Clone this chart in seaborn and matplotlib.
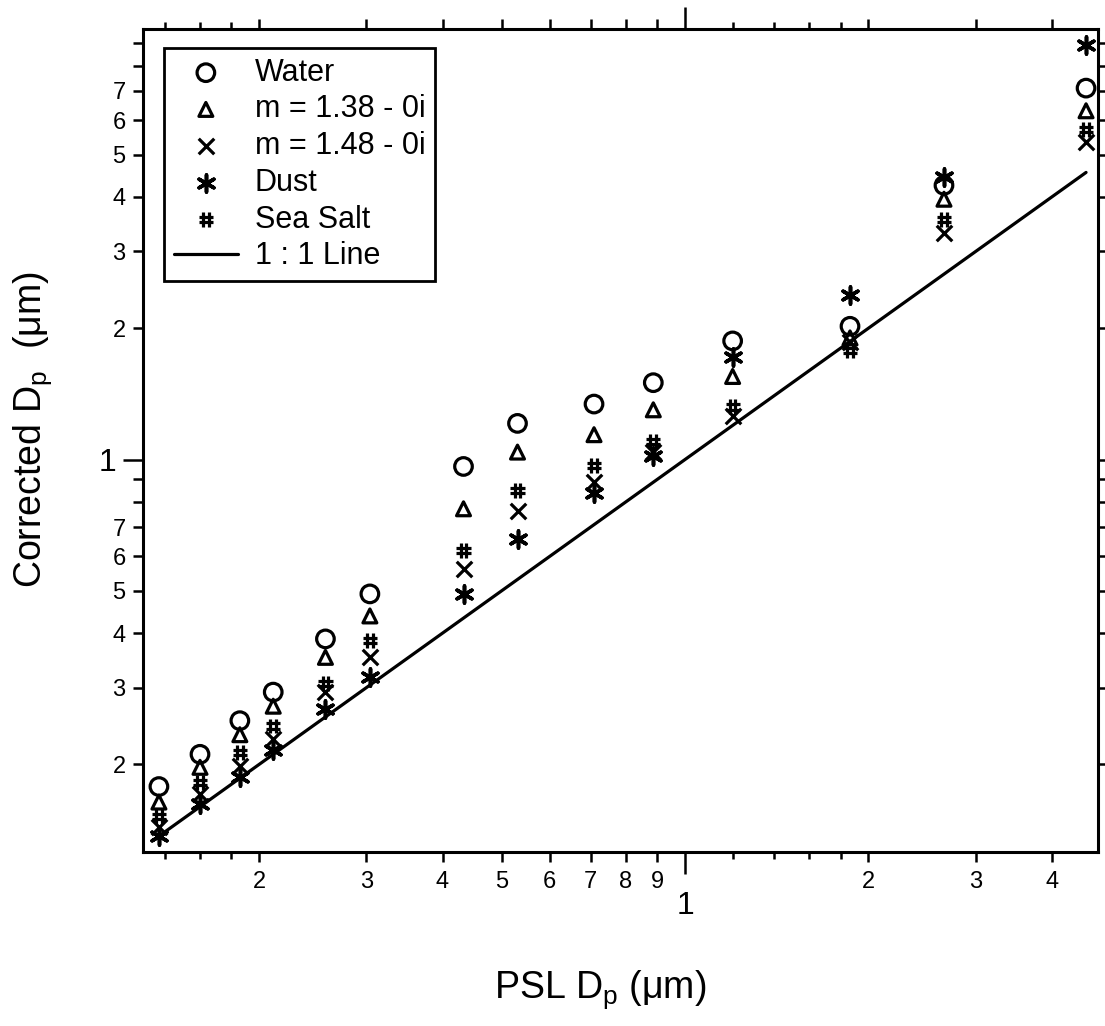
import numpy as np
import pandas as pd
import matplotlib
matplotlib.use("Agg")
import matplotlib.pyplot as plt
import seaborn as sns
from matplotlib.path import Path

# ---------------- data ----------------
psl_dp = [0.137, 0.160, 0.186, 0.211, 0.257, 0.304, 0.433, 0.531, 0.709, 0.887, 1.197, 1.865, 2.66, 4.55]
water = [0.178, 0.211, 0.252, 0.293, 0.388, 0.492, 0.964, 1.21, 1.34, 1.50, 1.87, 2.02, 4.25, 7.1]
m138 = [0.164, 0.197, 0.234, 0.272, 0.352, 0.438, 0.771, 1.04, 1.14, 1.30, 1.55, 1.90, 3.95, 6.3]
m148 = [0.144, 0.171, 0.198, 0.229, 0.293, 0.352, 0.561, 0.763, 0.889, 1.04, 1.26, 1.86, 3.30, 5.35]
dust = [0.137, 0.162, 0.187, 0.216, 0.268, 0.317, 0.492, 0.658, 0.836, 1.02, 1.72, 2.38, 4.45, 8.9]
sea_salt = [0.152, 0.182, 0.213, 0.245, 0.306, 0.384, 0.618, 0.849, 0.969, 1.10, 1.32, 1.78, 3.55, 5.7]

series_labels = ["Water", "m = 1.38 - 0i", "m = 1.48 - 0i", "Dust", "Sea Salt"]
line_label = "1 : 1 Line"

x_decade_ticks = [1]
x_decade_labels = ["1"]
x_minor_ticks = [0.14, 0.16, 0.18, 0.2, 0.3, 0.4, 0.5, 0.6, 0.7, 0.8, 0.9, 1.2, 1.4, 1.6, 1.8, 2, 3, 4]
x_minor_labels = ["", "", "", "2", "3", "4", "5", "6", "7", "8", "9", "", "", "", "", "2", "3", "4"]
y_decade_ticks = [1]
y_decade_labels = ["1"]
y_minor_ticks = [0.2, 0.3, 0.4, 0.5, 0.6, 0.7, 0.8, 0.9, 2, 3, 4, 5, 6, 7, 8, 9]
y_minor_labels = ["2", "3", "4", "5", "6", "7", "", "", "2", "3", "4", "5", "6", "7", "", ""]

x_label = r"PSL D$_\mathregular{p}$ ($\mathregular{\mu}$m)"
y_label = r"Corrected D$_\mathregular{p}$  ($\mathregular{\mu}$m)"

# ---------------- style ----------------
sns.set_theme(style="ticks", rc={
    "axes.edgecolor": "black", "text.color": "black", "axes.labelcolor": "black",
    "xtick.color": "black", "ytick.color": "black",
})
plt.rcParams["font.family"] = ["Liberation Sans", "DejaVu Sans"]
plt.rcParams["mathtext.fontset"] = "custom"
plt.rcParams["mathtext.rm"] = "Liberation Sans"
plt.rcParams["mathtext.it"] = "Liberation Sans"

fig = plt.figure(figsize=(11.05, 10.26), dpi=100)
ax = fig.add_axes([143 / 1105, 1 - 852 / 1026, 955 / 1105, 823 / 1026])

# hash marker for Sea Salt
hash_marker = Path(
    [(-0.38, -1.0), (-0.38, 1.0), (0.38, -1.0), (0.38, 1.0),
     (-0.95, -0.35), (0.95, -0.35), (-0.95, 0.35), (0.95, 0.35)],
    [Path.MOVETO, Path.LINETO] * 4)

lw = 2.3
# 1:1 line
sns.lineplot(x=psl_dp, y=psl_dp, color="black", linewidth=2.3, ax=ax, zorder=2,
             estimator=None, sort=True)
line_handle = ax.lines[-1]

specs = [
    (water, dict(marker="o", s=160, facecolor="none", edgecolor="black", linewidth=lw)),
    (m138, dict(marker="^", s=100, facecolor="none", edgecolor="black", linewidth=lw)),
    (m148, dict(marker="x", s=125, color="black", linewidth=lw)),
    (dust, dict(marker=(6, 2, 0), s=150, color="black", linewidth=lw + 0.3)),
    (sea_salt, dict(marker=hash_marker, s=115, facecolor="none", edgecolor="black", linewidth=lw)),
]
handles = []
for vals, kw in specs:
    sns.scatterplot(x=psl_dp, y=vals, ax=ax, zorder=3, legend=False, **kw)
    handles.append(ax.collections[-1])

# ---------------- axes ----------------
ax.set_xscale("log")
ax.set_yscale("log")
ax.set_xlim(0.129, 4.76)
ax.set_ylim(0.126, 9.7)

ax.set_xticks(x_decade_ticks, x_decade_labels)
ax.set_xticks(x_minor_ticks, x_minor_labels, minor=True)
ax.set_yticks(y_decade_ticks, y_decade_labels)
ax.set_yticks(y_minor_ticks, y_minor_labels, minor=True)

ax.tick_params(axis="x", which="major", direction="out", length=16, width=1.8,
               labelsize=23, pad=12, top=True, bottom=True)
ax.tick_params(axis="x", which="minor", direction="out", length=7.5, width=1.8,
               labelsize=17, pad=6, top=True, bottom=True)
ax.tick_params(axis="y", which="major", direction="out", length=14.5, width=1.8,
               labelsize=23, pad=5, left=True, right=True)
ax.tick_params(axis="y", which="minor", direction="out", length=7.5, width=1.8,
               labelsize=17, pad=5, left=True, right=True)

for sp in ax.spines.values():
    sp.set_linewidth(2.2)
    sp.set_color("black")
    sp.set_visible(True)

ax.set_xlabel(x_label, fontsize=27, va="center")
ax.xaxis.set_label_coords((600 - 143) / 955, (852 - 990) / 823)
ax.set_ylabel(y_label, fontsize=27, va="center")
ax.yaxis.set_label_coords((33 - 143) / 955, (852 - 430) / 823)

# legend
leg = ax.legend(handles + [line_handle], series_labels + [line_label],
                loc="upper left", bbox_to_anchor=(0.022, 0.977), borderaxespad=0,
                fontsize=22, frameon=True, fancybox=False, framealpha=1,
                edgecolor="black", labelspacing=0.22, borderpad=0.32,
                handlelength=2.1, handletextpad=0.55, scatterpoints=1)
leg.get_frame().set_linewidth(2.0)

fig.canvas.draw()
# shorter unlabeled minor ticks on x
short = {0.14, 0.16, 0.18, 1.2, 1.4, 1.6, 1.8}
for tick, loc in zip(ax.xaxis.get_minor_ticks(), ax.xaxis.get_minorticklocs()):
    if round(loc, 3) in short:
        tick.tick1line.set_markersize(5)
        tick.tick2line.set_markersize(5)

fig.savefig("out.png", dpi=100)
